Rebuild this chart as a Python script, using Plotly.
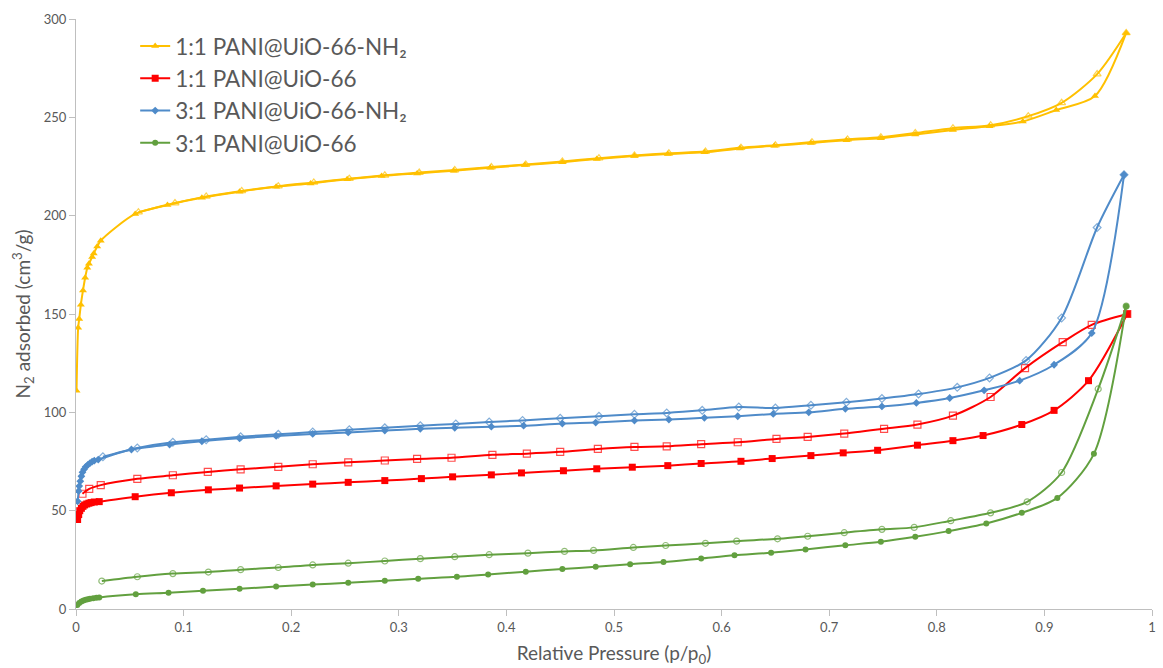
import plotly.graph_objects as go

# N2 sorption isotherms: adsorption (filled markers) and desorption (open markers)

# 1:1 PANI@UiO-66-NH2
y11nh2_ads_p = [0.0005, 0.002, 0.003, 0.0045, 0.0065, 0.0085, 0.0105, 0.012, 0.015, 0.0165, 0.0197, 0.023,
                0.055, 0.085, 0.117, 0.152, 0.186, 0.218, 0.252, 0.284, 0.317, 0.351, 0.385, 0.417, 0.452,
                0.484, 0.519, 0.55, 0.584, 0.617, 0.649, 0.683, 0.716, 0.748, 0.78, 0.815, 0.849, 0.88,
                0.911, 0.947, 0.976]
y11nh2_ads_v = [111, 143, 147.5, 154.7, 162, 168.4, 173.5, 175.5, 179, 180.8, 184.3, 187.3,
                200.9, 205.4, 209.1, 212.2, 214.7, 216.4, 218.5, 220.2, 221.5, 222.8, 224.4, 225.7, 227.2,
                228.8, 230.3, 231.3, 232.2, 234.2, 235.5, 237, 238.4, 239.4, 241.3, 243.6, 245.5, 247.9,
                253.7, 260.8, 292.9]
y11nh2_des_p = [0.976, 0.949, 0.916, 0.885, 0.85, 0.815, 0.78, 0.748, 0.717, 0.684, 0.65, 0.618, 0.585,
                0.551, 0.519, 0.486, 0.452, 0.418, 0.386, 0.352, 0.319, 0.287, 0.254, 0.221, 0.188, 0.154,
                0.121, 0.092, 0.058]
y11nh2_des_v = [292.9, 272, 257.4, 250.6, 246, 244.5, 242, 239.9, 238.8, 237.4, 235.8, 234.6, 232.6,
                231.7, 230.6, 229.2, 227.6, 226, 224.7, 223.2, 221.9, 220.5, 218.8, 216.9, 215, 212.6,
                209.8, 206.4, 201.8]

# 1:1 PANI@UiO-66
r11_ads_p = [0.0015, 0.0025, 0.0035, 0.005, 0.0065, 0.008, 0.01, 0.012, 0.014, 0.017, 0.0216,
             0.055, 0.0886, 0.123, 0.152, 0.186, 0.22, 0.253, 0.287, 0.321, 0.35, 0.386, 0.414, 0.453,
             0.484, 0.517, 0.55, 0.581, 0.618, 0.647, 0.683, 0.713, 0.745, 0.782, 0.815, 0.843, 0.879,
             0.909, 0.941, 0.977]
r11_ads_v = [45.5, 48, 50, 51.2, 52.2, 52.9, 53.4, 53.8, 54.1, 54.4, 54.6,
             57.1, 59.1, 60.6, 61.5, 62.6, 63.5, 64.4, 65.3, 66.3, 67.2, 68.2, 69.2, 70.3,
             71.3, 72.1, 72.9, 74, 75.1, 76.5, 78, 79.4, 80.7, 83.3, 85.6, 88.2, 93.8,
             101, 116.1, 150]
r11_des_p = [0.977, 0.944, 0.917, 0.882, 0.85, 0.815, 0.782, 0.751, 0.714, 0.68, 0.651, 0.615, 0.581,
             0.549, 0.519, 0.485, 0.45, 0.419, 0.387, 0.349, 0.317, 0.287, 0.253, 0.22, 0.188, 0.153,
             0.1225, 0.09, 0.057, 0.023, 0.0123, 0.006]
r11_des_v = [150, 144.5, 135.7, 122.5, 107.8, 98.3, 93.8, 91.6, 89.2, 87.5, 86.5, 84.8, 83.8,
             82.7, 82.4, 81.4, 79.9, 79, 78.4, 76.9, 76.3, 75.5, 74.6, 73.6, 72.3, 71,
             69.7, 68, 66.2, 63, 61.1, 58.6]

# 3:1 PANI@UiO-66-NH2
b31nh2_ads_p = [0.0015, 0.0025, 0.003, 0.004, 0.005, 0.006, 0.0075, 0.009, 0.011, 0.013, 0.015, 0.017,
                0.0207, 0.0515, 0.087, 0.117, 0.152, 0.186, 0.22, 0.253, 0.287, 0.32, 0.352, 0.386,
                0.416, 0.452, 0.483, 0.519, 0.551, 0.584, 0.615, 0.648, 0.681, 0.715, 0.749, 0.781,
                0.812, 0.844, 0.877, 0.909, 0.944, 0.974]
b31nh2_ads_v = [54.8, 60, 62.5, 65, 67.5, 69.5, 71, 72.3, 73.3, 74.2, 74.9, 75.4,
                76, 81.1, 83.6, 85.3, 86.8, 88, 89, 89.8, 90.7, 91.6, 92.1, 92.7,
                93.2, 94.3, 94.8, 95.8, 96.3, 97.2, 98, 99.2, 100, 101.8, 103, 104.8,
                107.3, 111.2, 116.1, 124.2, 140.3, 220.8]
b31nh2_des_p = [0.974, 0.949, 0.916, 0.883, 0.849, 0.819, 0.783, 0.749, 0.716, 0.683, 0.65, 0.616,
                0.582, 0.549, 0.519, 0.486, 0.45, 0.415, 0.384, 0.353, 0.32, 0.287, 0.254, 0.22,
                0.188, 0.153, 0.121, 0.09, 0.057, 0.025]
b31nh2_des_v = [220.8, 194, 148, 126.4, 117.5, 112.7, 109.3, 107, 105.1, 103.6, 102.2, 102.7,
                101, 99.7, 99, 98, 97, 95.9, 95.1, 94.1, 93.2, 92.1, 91.1, 90,
                88.8, 87.6, 86.1, 84.8, 81.9, 77.4]

# 3:1 PANI@UiO-66
g31_ads_p = [0.0012, 0.003, 0.005, 0.007, 0.009, 0.011, 0.013, 0.016, 0.019, 0.0216,
             0.0556, 0.086, 0.118, 0.152, 0.186, 0.22, 0.253, 0.287, 0.318, 0.354, 0.383, 0.418,
             0.452, 0.483, 0.515, 0.546, 0.581, 0.612, 0.646, 0.678, 0.715, 0.748, 0.78, 0.811,
             0.846, 0.879, 0.912, 0.946, 0.976]
g31_ads_v = [2, 3, 3.8, 4.3, 4.7, 5, 5.2, 5.5, 5.7, 5.9,
             7.5, 8.3, 9.3, 10.3, 11.4, 12.4, 13.3, 14.4, 15.4, 16.4, 17.6, 19,
             20.3, 21.5, 22.8, 23.9, 25.7, 27.3, 28.6, 30.3, 32.4, 34.2, 36.7, 39.6,
             43.5, 48.9, 56.5, 78.9, 154]
g31_des_p = [0.976, 0.95, 0.916, 0.884, 0.85, 0.813, 0.779, 0.749, 0.714, 0.68, 0.652, 0.614, 0.585,
             0.548, 0.518, 0.481, 0.454, 0.42, 0.384, 0.352, 0.32, 0.287, 0.253, 0.22, 0.188, 0.153,
             0.123, 0.09, 0.057, 0.024]
g31_des_v = [154, 111.9, 69.4, 54.5, 48.9, 44.9, 41.5, 40.5, 38.8, 37, 35.7, 34.5, 33.4,
             32.3, 31.3, 29.8, 29.3, 28.4, 27.6, 26.6, 25.6, 24.4, 23.3, 22.4, 21.1, 20,
             18.8, 18, 16.4, 14.2]

series = [
    ("1:1 PANI@UiO-66-NH\u2082", "#FFC000", "triangle-up", 7, y11nh2_ads_p, y11nh2_ads_v, y11nh2_des_p, y11nh2_des_v),
    ("1:1 PANI@UiO-66", "#FF0000", "square", 7, r11_ads_p, r11_ads_v, r11_des_p, r11_des_v),
    ("3:1 PANI@UiO-66-NH\u2082", "#4F8BC9", "diamond", 6, b31nh2_ads_p, b31nh2_ads_v, b31nh2_des_p, b31nh2_des_v),
    ("3:1 PANI@UiO-66", "#62A03F", "circle", 6, g31_ads_p, g31_ads_v, g31_des_p, g31_des_v),
]

fig = go.Figure()
for name, color, symbol, size, ap, av, dp, dv in series:
    fig.add_trace(go.Scatter(
        x=dp, y=dv, mode="lines+markers", showlegend=False, hoverinfo="skip",
        line=dict(color=color, width=2, shape="spline", smoothing=0.8),
        marker=dict(symbol=symbol + "-open", size=size, color=color, opacity=0.7,
                    line=dict(color=color, width=1.2)),
    ))
    fig.add_trace(go.Scatter(
        x=ap, y=av, mode="lines+markers", name=name,
        line=dict(color=color, width=2, shape="spline", smoothing=0.8),
        marker=dict(symbol=symbol, size=size, color=color),
    ))

tick_font = dict(family="Lato, Open Sans, sans-serif", size=13, color="#595959")

fig.update_layout(
    width=1163, height=668,
    margin=dict(l=76, r=7, t=19, b=58),
    paper_bgcolor="white", plot_bgcolor="white",
    font=dict(family="Lato, Open Sans, sans-serif", color="#595959"),
    legend=dict(
        x=0.055, y=0.99, xanchor="left", yanchor="top",
        font=dict(size=22.5, color="#595959"),
        bgcolor="rgba(0,0,0,0)", itemwidth=30,
    ),
    xaxis=dict(
        range=[0, 1], tickvals=[0, 0.1, 0.2, 0.3, 0.4, 0.5, 0.6, 0.7, 0.8, 0.9, 1],
        ticktext=["0", "0.1", "0.2", "0.3", "0.4", "0.5", "0.6", "0.7", "0.8", "0.9", "1"],
        showgrid=False, zeroline=False, showline=True, linecolor="#BFBFBF", linewidth=1,
        ticks="outside", ticklen=6, tickcolor="#BFBFBF", tickfont=tick_font,
        title=dict(text="Relative Pressure (p/p<sub>0</sub>)", font=dict(size=19, color="#595959"), standoff=13),
    ),
    yaxis=dict(
        range=[0, 300], tickvals=[0, 50, 100, 150, 200, 250, 300],
        showgrid=False, zeroline=False, showline=True, linecolor="#BFBFBF", linewidth=1,
        ticks="outside", ticklen=6, tickcolor="#BFBFBF", tickfont=tick_font,
        title=dict(text="N<sub>2</sub> adsorbed (cm<sup>3</sup>/g)", font=dict(size=19, color="#595959"), standoff=8),
    ),
)

fig.write_html("out.html")
